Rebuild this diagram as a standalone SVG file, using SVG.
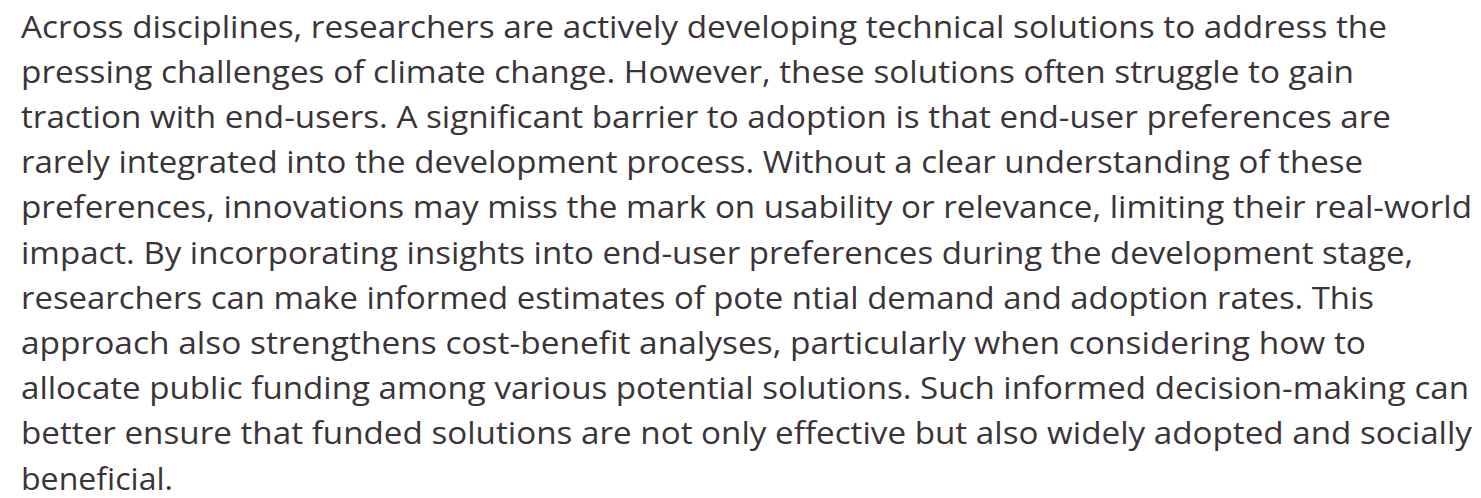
<svg xmlns="http://www.w3.org/2000/svg" width="1481" height="498" viewBox="0 0 1481 498">
<style>
.t{font-family:"Open Sans","Noto Sans",sans-serif;font-size:31px;fill:#3a3438;}
</style>
<rect width="1481" height="498" fill="#ffffff"/>
<g id="paragraph" class="t">
<text x="21" y="37.5" textLength="1366" lengthAdjust="spacingAndGlyphs">Across disciplines, researchers are actively developing technical solutions to address the</text>
<text x="21" y="82.7" textLength="1333" lengthAdjust="spacingAndGlyphs">pressing challenges of climate change. However, these solutions often struggle to gain</text>
<text x="21" y="127.9" textLength="1370" lengthAdjust="spacingAndGlyphs">traction with end-users. A significant barrier to adoption is that end-user preferences are</text>
<text x="21" y="173.1" textLength="1342" lengthAdjust="spacingAndGlyphs">rarely integrated into the development process. Without a clear understanding of these</text>
<text x="21" y="218.3" textLength="1451" lengthAdjust="spacingAndGlyphs">preferences, innovations may miss the mark on usability or relevance, limiting their real-world</text>
<text x="21" y="263.5" textLength="1392" lengthAdjust="spacingAndGlyphs">impact. By incorporating insights into end-user preferences during the development stage,</text>
<text x="21" y="308.7" textLength="1353" lengthAdjust="spacingAndGlyphs">researchers can make informed estimates of pote ntial demand and adoption rates. This</text>
<text x="21" y="353.9" textLength="1345" lengthAdjust="spacingAndGlyphs">approach also strengthens cost-benefit analyses, particularly when considering how to</text>
<text x="21" y="399.1" textLength="1448" lengthAdjust="spacingAndGlyphs">allocate public funding among various potential solutions. Such informed decision-making can</text>
<text x="21" y="444.3" textLength="1451" lengthAdjust="spacingAndGlyphs">better ensure that funded solutions are not only effective but also widely adopted and socially</text>
<text x="21" y="489.5" textLength="152" lengthAdjust="spacingAndGlyphs">beneficial.</text>
</g>
</svg>
